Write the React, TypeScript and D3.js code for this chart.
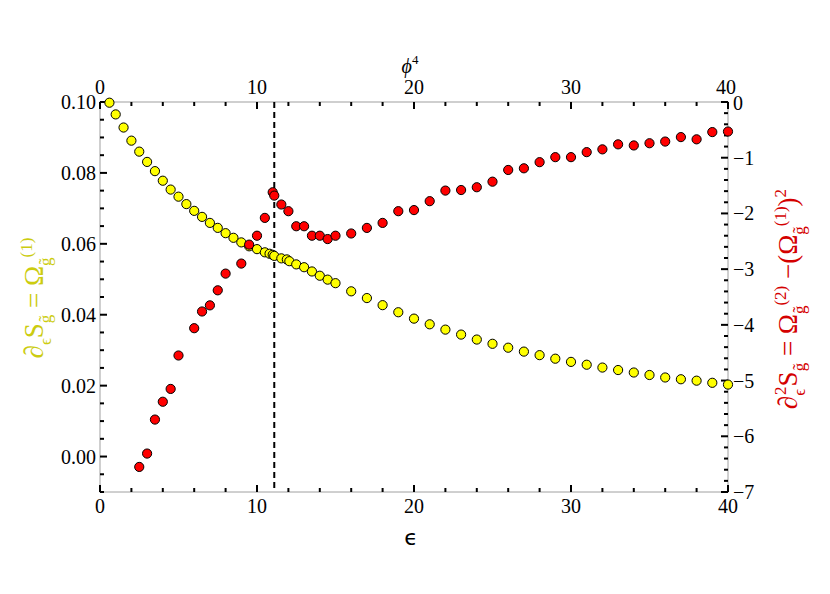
import React from "react";
import * as d3 from "d3";

// yellow series: dS/de (left axis)
const yellowX = [0.6, 1, 1.5, 2, 2.5, 3, 3.5, 4, 4.5, 5, 5.5, 6, 6.5, 7, 7.5, 8, 8.5, 9, 9.5, 10, 10.5, 10.8, 11, 11.1, 11.55, 11.9, 12.06, 12.5, 13, 13.5, 14, 14.5, 15, 16, 17, 18, 19, 20, 21, 22, 23, 24, 25, 26, 27, 28, 29, 30, 31, 32, 33, 34, 35, 36, 37, 38, 39, 40];
const yellowY = [0.0998, 0.0965, 0.0928, 0.0891, 0.086, 0.0831, 0.0805, 0.0778, 0.0753, 0.0733, 0.0712, 0.0693, 0.0676, 0.0659, 0.0645, 0.063, 0.0617, 0.0604, 0.0593, 0.0585, 0.0576, 0.0572, 0.0569, 0.0566, 0.0559, 0.0556, 0.0551, 0.0542, 0.0534, 0.0522, 0.051, 0.0499, 0.0489, 0.0466, 0.0447, 0.0427, 0.0407, 0.0389, 0.0373, 0.0358, 0.0344, 0.033, 0.0318, 0.0307, 0.0296, 0.0286, 0.0276, 0.0267, 0.0259, 0.0251, 0.0244, 0.0237, 0.023, 0.0223, 0.0218, 0.0214, 0.0208, 0.0203];

// red series: d2S/de2 (right axis)
const redX = [2.5, 3, 3.5, 4, 4.5, 5, 6, 6.5, 7, 7.5, 8, 9, 9.5, 10, 10.5, 11, 11.1, 11.55, 12, 12.5, 13, 13.5, 14, 14.5, 15, 16, 17, 18, 19, 20, 21, 22, 23, 24, 25, 26, 27, 28, 29, 30, 31, 32, 33, 34, 35, 36, 37, 38, 39, 40];
const redY = [-6.55, -6.31, -5.7, -5.38, -5.15, -4.55, -4.06, -3.76, -3.65, -3.38, -3.08, -2.9, -2.56, -2.4, -2.08, -1.62, -1.68, -1.84, -1.96, -2.23, -2.23, -2.4, -2.4, -2.46, -2.4, -2.36, -2.26, -2.17, -1.96, -1.94, -1.78, -1.59, -1.58, -1.53, -1.43, -1.22, -1.19, -1.08, -0.99, -0.99, -0.9, -0.85, -0.76, -0.78, -0.74, -0.71, -0.63, -0.67, -0.54, -0.53];

const xMajor = [0, 10, 20, 30, 40];
const leftMajor = [0, 0.02, 0.04, 0.06, 0.08, 0.1];
const rightMajor = [0, -1, -2, -3, -4, -5, -6, -7];
const critical = 11.1;

const YELLOW_TXT = "#cccc10";
const RED_TXT = "#d40000";
const FONT = "'Liberation Serif', 'Times New Roman', serif";

type Seg = { t: string; lvl?: "sub" | "sup"; dx?: number };

// build tspans with sub/superscripts, tracking the current baseline offset
function richText(segs: Seg[], base: number, small: number) {
  let cur = 0;
  return segs.map((s, i) => {
    const off = s.lvl === "sub" ? base * 0.28 : s.lvl === "sup" ? -base * 0.42 : 0;
    const dy = off - cur;
    cur = off;
    return (
      <tspan key={i} dy={dy} dx={s.dx || 0} fontSize={s.lvl ? small : base}>
        {s.t}
      </tspan>
    );
  });
}

const leftLabel: Seg[] = [
  { t: "∂" }, { t: "ϵ", lvl: "sub" }, { t: "S" }, { t: "g\u0303", lvl: "sub" },
  { t: " = Ω" }, { t: "g\u0303", lvl: "sub" }, { t: "(1)", lvl: "sup" },
];
const rightLabel: Seg[] = [
  { t: "∂" }, { t: "ϵ", lvl: "sub" }, { t: "2", lvl: "sup", dx: -6 }, { t: "S" }, { t: "g\u0303", lvl: "sub" },
  { t: " = Ω" }, { t: "g\u0303", lvl: "sub" }, { t: "(2)", lvl: "sup" }, { t: " −(Ω" },
  { t: "g\u0303", lvl: "sub" }, { t: "(1)", lvl: "sup" }, { t: ")" }, { t: "2", lvl: "sup" },
];

export default function App() {
  const W = 830, H = 594;
  const L = 100, R = 728, T = 102, B = 492;

  const x = d3.scaleLinear().domain([0, 40]).range([L, R]);
  const yL = d3.scaleLinear().domain([-0.01, 0.1]).range([B, T]);
  const yR = d3.scaleLinear().domain([-7, 0]).range([B, T]);

  const xMinor = d3.range(0, 40.01, 2);
  const leftMinor = d3.range(-0.01, 0.1001, 0.005);
  const rightMinor = d3.range(-7, 0.001, 0.2);

  const maj = 7, mnr = 4;
  const tick = { stroke: "#000", strokeWidth: 2 };
  const fmtL = d3.format(".2f");
  const fmtR = (v: number) => (v === 0 ? "0" : "\u2212" + Math.abs(v));

  return (
    <svg width={W} height={H} style={{ position: "absolute", left: 0, top: 0, background: "#fff" }} fontFamily={FONT}>
      {/* frame */}
      <rect x={L} y={T} width={R - L} height={B - T} fill="none" stroke="#a0a0a0" strokeWidth={1} />

      {/* bottom & top ticks */}
      {xMinor.map((v) => {
        const len = xMajor.includes(v) ? maj : mnr;
        return (
          <g key={"x" + v}>
            <line x1={x(v)} x2={x(v)} y1={B} y2={B - len} {...tick} />
            <line x1={x(v)} x2={x(v)} y1={T} y2={T + len} {...tick} />
          </g>
        );
      })}
      {xMajor.map((v) => (
        <g key={"xl" + v} fontSize={20} textAnchor="middle">
          <text x={x(v)} y={B + 21}>{v}</text>
          <text x={x(v) - (v === 40 ? 2 : 0)} y={T - 8}>{v}</text>
        </g>
      ))}

      {/* left ticks */}
      {leftMinor.map((v) => {
        const isMaj = leftMajor.some((m) => Math.abs(m - v) < 1e-6);
        return <line key={"l" + v} x1={L} x2={L + (isMaj ? maj : mnr)} y1={yL(v)} y2={yL(v)} {...tick} />;
      })}
      {leftMajor.map((v) => (
        <text key={"ll" + v} x={L - 4} y={yL(v) + 7} fontSize={20} textAnchor="end">{fmtL(v)}</text>
      ))}

      {/* right ticks */}
      {rightMajor.map((v) => null)}
      {rightMinor.map((v) => {
        const isMaj = rightMajor.some((m) => Math.abs(m - v) < 1e-6);
        return <line key={"r" + v} x1={R} x2={R - (isMaj ? maj : mnr)} y1={yR(v)} y2={yR(v)} {...tick} />;
      })}
      {rightMajor.map((v) => (
        <text key={"rl" + v} x={R + 5} y={yR(v) + (v === 0 ? 8 : 7)} fontSize={20}>{fmtR(v)}</text>
      ))}

      {/* critical point */}
      <line x1={x(critical)} x2={x(critical)} y1={T} y2={B} stroke="#000" strokeWidth={2} strokeDasharray="6,4" />

      {/* data */}
      {yellowX.map((v, i) => (
        <circle key={"y" + i} cx={x(v)} cy={yL(yellowY[i])} r={4.6} fill="#ffff00" stroke="#000" strokeWidth={1} />
      ))}
      {redX.map((v, i) => (
        <circle key={"rd" + i} cx={x(v)} cy={yR(redY[i])} r={4.6} fill="#ff0000" stroke="#000" strokeWidth={1} />
      ))}

      {/* axis titles */}
      <text x={411} y={545} fontSize={22} textAnchor="middle" fontFamily="'DejaVu Sans', sans-serif">ϵ</text>
      <text x={410} y={73} fontSize={20} textAnchor="middle" fontStyle="italic">
        ϕ<tspan fontSize={13} dy={-9} fontStyle="normal">4</tspan>
      </text>
      <text transform="translate(43,298) rotate(-90)" textAnchor="middle" fill={YELLOW_TXT} fontFamily={FONT}>
        {richText(leftLabel, 27, 17)}
      </text>
      <text transform="translate(797,299) rotate(-90)" textAnchor="middle" fill={RED_TXT} fontFamily={FONT}>
        {richText(rightLabel, 27, 17)}
      </text>
    </svg>
  );
}
